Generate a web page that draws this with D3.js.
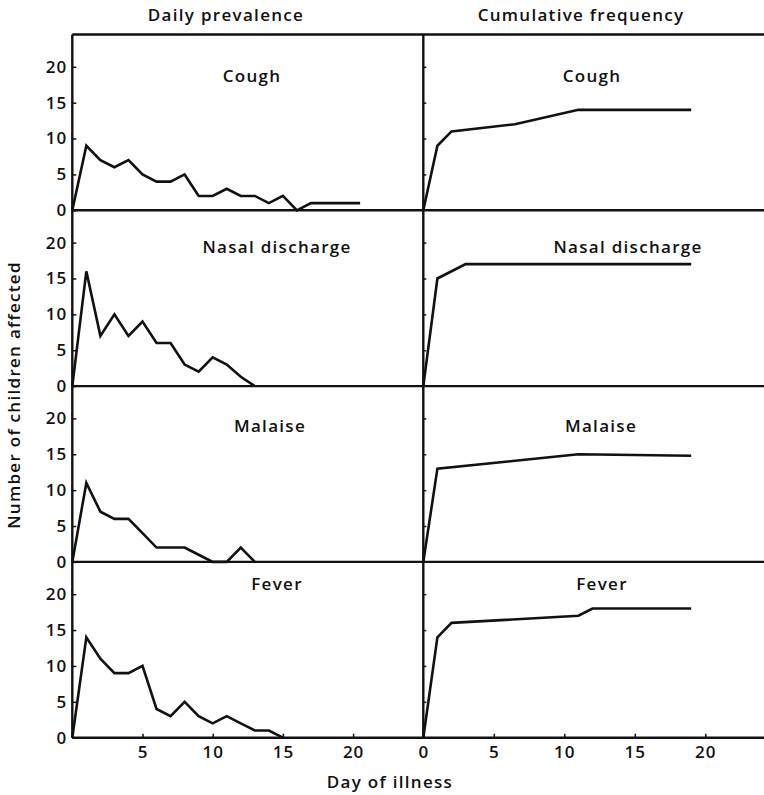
<!DOCTYPE html>
<html>
<head>
<meta charset="utf-8">
<script src="https://cdn.jsdelivr.net/npm/d3@7"></script>
<style>
  body { margin: 0; background: #fff; }
  text { font-family: "Open Sans", sans-serif; fill: #111; font-weight: 600; }
</style>
</head>
<body>
<div id="chart"></div>
<script>
// symptoms, one row each
var symptoms = ["Cough", "Nasal discharge", "Malaise", "Fever"];

// daily prevalence (left column)
var coughDays   = [0, 1, 2, 3, 4, 5, 6, 7, 8, 9, 10, 11, 12, 13, 14, 15, 16, 17, 18, 19, 20, 20.5];
var coughDaily  = [0, 9, 7, 6, 7, 5, 4, 4, 5, 2, 2, 3, 2, 2, 1, 2, 0, 1, 1, 1, 1, 1];
var nasalDays   = [0, 1, 2, 3, 4, 5, 6, 7, 8, 9, 10, 11, 12, 13];
var nasalDaily  = [0, 16, 7, 10, 7, 9, 6, 6, 3, 2, 4, 3, 1.3, 0];
var malaiseDays  = [0, 1, 2, 3, 4, 5, 6, 7, 8, 9, 10, 11, 12, 13];
var malaiseDaily = [0, 11, 7, 6, 6, 4, 2, 2, 2, 1, 0, 0, 2, 0];
var feverDays   = [0, 1, 2, 3, 4, 5, 6, 7, 8, 9, 10, 11, 12, 13, 14, 15];
var feverDaily  = [0, 14, 11, 9, 9, 10, 4, 3, 5, 3, 2, 3, 2, 1, 1, 0];

// cumulative frequency (right column)
var coughCumDays   = [0, 1, 2, 6.5, 11, 19];
var coughCum       = [0, 9, 11, 12, 14, 14];
var nasalCumDays   = [0, 1, 3, 19];
var nasalCum       = [0, 15, 17, 17];
var malaiseCumDays = [0, 1, 6, 11, 19];
var malaiseCum     = [0, 13, 14, 15, 14.8];
var feverCumDays   = [0, 1, 2, 11, 12, 19];
var feverCum       = [0, 14, 16, 17, 18, 18];

// tick labels
var yTicks = [0, 5, 10, 15, 20];
var xTicksLeft = [5, 10, 15, 20];
var xTicksRight = [0, 5, 10, 15, 20];

function pairs(days, vals) {
    return days.map(function(d, i){ return [d, vals[i]]; });
}

var daily = [pairs(coughDays, coughDaily), pairs(nasalDays, nasalDaily),
             pairs(malaiseDays, malaiseDaily), pairs(feverDays, feverDaily)];
var cumul = [pairs(coughCumDays, coughCum), pairs(nasalCumDays, nasalCum),
             pairs(malaiseCumDays, malaiseCum), pairs(feverCumDays, feverCum)];

var width = 764, height = 795;
var topY = 34.5, rowH = 175.8;
var leftX = 72.3, midX = 423.3;
var bottomY = topY + 4 * rowH;

var svg = d3.select("#chart")
    .append("svg")
        .attr("width", width)
        .attr("height", height);

var xLeft = d3.scaleLinear().domain([0, 25]).range([leftX, midX]);
var xRight = d3.scaleLinear().domain([0, 25]).range([midX, midX + 25 * 14.1]);

// where the symptom names sit inside each panel
var labelPos = [
    { l: 252, r: 592, y: 82 },
    { l: 277, r: 628, y: 253 },
    { l: 270, r: 601, y: 432 },
    { l: 277, r: 602, y: 590 }
];

symptoms.forEach(function(name, i){
    var y = d3.scaleLinear().domain([0, 24.5])
        .range([topY + (i + 1) * rowH, topY + i * rowH]);

    // left y axis with labels, ticks pointing inward
    var yAxisL = svg.append("g")
        .attr("transform", "translate(" + leftX + ",0)")
        .call(d3.axisLeft(y).tickValues(yTicks).tickSizeInner(-4).tickSizeOuter(0).tickPadding(5));
    yAxisL.select(".domain").remove();
    yAxisL.selectAll("line").attr("stroke", "#111").attr("stroke-width", 1.5);
    yAxisL.selectAll("text")
        .attr("font-size", "17px")
        .attr("letter-spacing", "1px")
        .attr("font-family", "Open Sans, sans-serif")
        .attr("fill", "#111");

    // right panel y ticks only
    var yAxisR = svg.append("g")
        .attr("transform", "translate(" + midX + ",0)")
        .call(d3.axisRight(y).tickValues(yTicks.slice(1)).tickSizeInner(3).tickSizeOuter(0).tickFormat(""));
    yAxisR.select(".domain").remove();
    yAxisR.selectAll("line").attr("stroke", "#111").attr("stroke-width", 1.5);

    // zero line across both panels
    svg.append("line")
        .attr("x1", leftX).attr("x2", width)
        .attr("y1", y(0)).attr("y2", y(0))
        .attr("stroke", "#111").attr("stroke-width", 2.4);

    var lineL = d3.line().x(function(d){ return xLeft(d[0]); }).y(function(d){ return y(d[1]); });
    var lineR = d3.line().x(function(d){ return xRight(d[0]); }).y(function(d){ return y(d[1]); });

    svg.append("path")
        .attr("d", lineL(daily[i]))
        .attr("fill", "none").attr("stroke", "#111").attr("stroke-width", 2.6);
    svg.append("path")
        .attr("d", lineR(cumul[i]))
        .attr("fill", "none").attr("stroke", "#111").attr("stroke-width", 2.6);

    svg.append("text")
        .attr("x", labelPos[i].l).attr("y", labelPos[i].y)
        .attr("text-anchor", "middle")
        .attr("font-size", "17px").attr("letter-spacing", "1.3px")
        .text(name);
    svg.append("text")
        .attr("x", labelPos[i].r).attr("y", labelPos[i].y)
        .attr("text-anchor", "middle")
        .attr("font-size", "17px").attr("letter-spacing", "1.3px")
        .text(name);
});

// frame: top line and the two vertical axes
svg.append("line")
    .attr("x1", leftX).attr("x2", width)
    .attr("y1", topY).attr("y2", topY)
    .attr("stroke", "#111").attr("stroke-width", 2.4);
[leftX, midX].forEach(function(x){
    svg.append("line")
        .attr("x1", x).attr("x2", x)
        .attr("y1", topY).attr("y2", bottomY)
        .attr("stroke", "#111").attr("stroke-width", 2.4);
});

// x axes at the bottom
var xAxisL = svg.append("g")
    .attr("transform", "translate(0," + bottomY + ")")
    .call(d3.axisBottom(xLeft).tickValues(xTicksLeft).tickSizeInner(-4).tickSizeOuter(0).tickPadding(8));
var xAxisR = svg.append("g")
    .attr("transform", "translate(0," + bottomY + ")")
    .call(d3.axisBottom(xRight).tickValues(xTicksRight).tickSizeInner(-4).tickSizeOuter(0).tickPadding(8));
[xAxisL, xAxisR].forEach(function(ax){
    ax.select(".domain").remove();
    ax.selectAll("line").attr("stroke", "#111").attr("stroke-width", 1.5);
    ax.selectAll("text")
        .attr("font-size", "17px")
        .attr("letter-spacing", "1px")
        .attr("font-family", "Open Sans, sans-serif")
        .attr("fill", "#111");
});

// titles
svg.append("text")
    .attr("x", 226).attr("y", 21)
    .attr("text-anchor", "middle")
    .attr("font-size", "17px").attr("letter-spacing", "1.3px")
    .text("Daily prevalence");
svg.append("text")
    .attr("x", 581).attr("y", 21)
    .attr("text-anchor", "middle")
    .attr("font-size", "17px").attr("letter-spacing", "1.3px")
    .text("Cumulative frequency");

svg.append("text")
    .attr("x", 390).attr("y", 788)
    .attr("text-anchor", "middle")
    .attr("font-size", "17px").attr("letter-spacing", "1.3px")
    .text("Day of illness");

svg.append("text")
    .attr("transform", "translate(20,395) rotate(-90)")
    .attr("text-anchor", "middle")
    .attr("font-size", "17px").attr("letter-spacing", "1.3px")
    .text("Number of children affected");
</script>
</body>
</html>
